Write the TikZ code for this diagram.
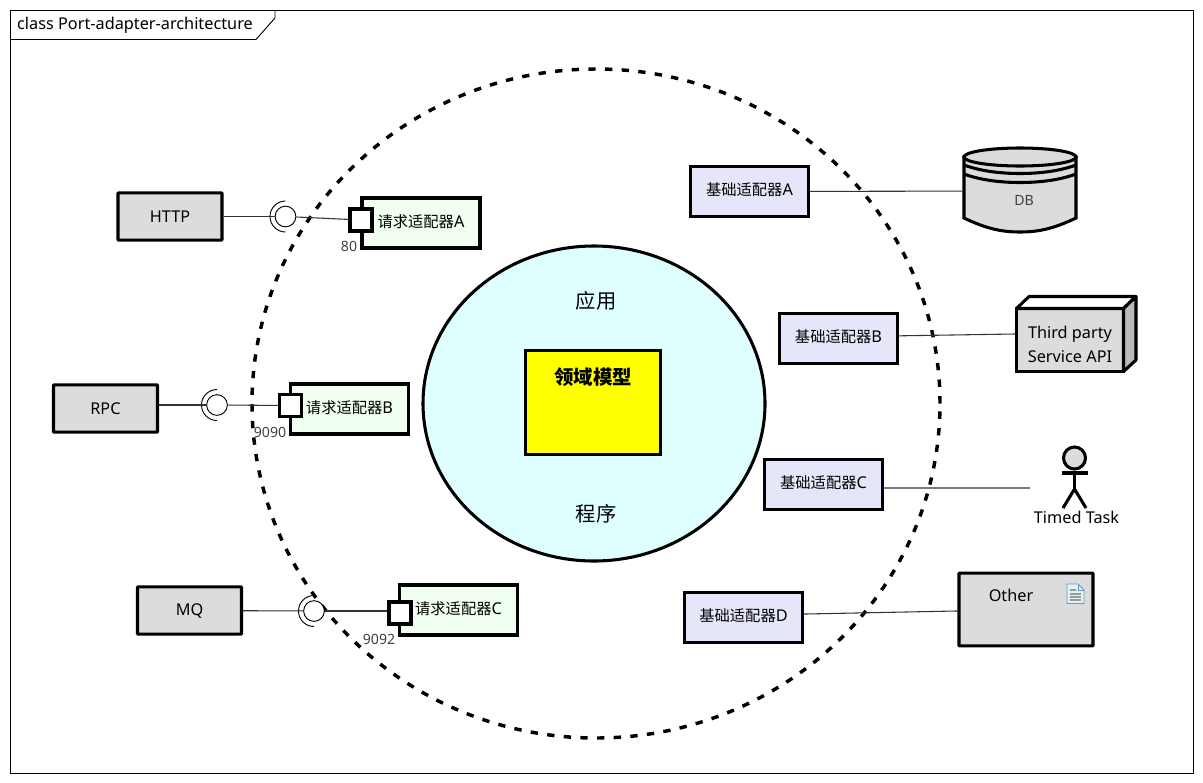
\documentclass[tikz,border=0pt]{standalone}
\usepackage{fontspec}
\setmainfont{Noto Sans}
\newfontfamily\cjk[Scale=0.94]{Noto Sans CJK SC}
\usetikzlibrary{shapes.geometric,calc}

\definecolor{boxgrey}{HTML}{DCDCDC}
\definecolor{sidegrey}{HTML}{B9B9B9}
\definecolor{reqgreen}{HTML}{F0FFF0}
\definecolor{basicblue}{HTML}{E6E6FA}
\definecolor{appcyan}{HTML}{DFFFFF}
\definecolor{domainyellow}{HTML}{FFFF00}
\definecolor{docblue}{HTML}{6F93C9}
\definecolor{docfill}{HTML}{DDF5F0}

\begin{document}
\begin{tikzpicture}[x=0.75pt,y=-0.75pt,font=\fontsize{12.2}{15}\selectfont,
	thick line/.style={line width=2.3pt},
	wire/.style={line width=0.8pt,black!80},
	greynode/.style={rectangle,draw,thick line,rounded corners=0.5pt,fill=boxgrey,inner sep=0pt,minimum width=78pt,minimum height=35.5pt},
	reqnode/.style={rectangle,draw,thick line,fill=reqgreen,inner sep=0pt,text depth=3.5pt,minimum width=88.5pt,minimum height=37.5pt},
	basicnode/.style={rectangle,draw,thick line,fill=basicblue,inner sep=0pt,text depth=3.5pt,minimum width=88.5pt,minimum height=38pt},
	portnode/.style={rectangle,draw,thick line,fill=white,inner sep=0pt,minimum width=16.5pt,minimum height=16.5pt},
	ballnode/.style={circle,draw,line width=0.7pt,fill=white,inner sep=0pt,minimum size=15.5pt},
	portlabel/.style={inner sep=0pt,text=black!75,font=\fontsize{10.6}{13}\selectfont}]

	\useasboundingbox (0, 0) rectangle (1203, 782);

	% frame and its tag
	\draw[line width=0.7pt] (10, 10) rectangle (1193, 773);
	\draw[line width=0.7pt] (10, 39.5) -- (256, 39.5) -- (275, 18) -- (275, 10);
	\node [inner sep=0pt] (title) at (135, 25) {class Port-adapter-architecture};

	% the two rings
	\node [ellipse,draw,line width=2.6pt,dash pattern=on 5.5pt off 7pt,inner sep=0pt,minimum width=516pt,minimum height=501.75pt] (outerring) at (596, 403.5) {};
	\node [ellipse,draw,thick line,fill=appcyan,inner sep=0pt,minimum width=256.5pt,minimum height=236.25pt] (appring) at (594, 403.5) {};
	\node (applabel) at (596, 301) {\fontsize{16.2}{18}\selectfont\cjk 应用};
	\node (proglabel) at (596, 514) {\fontsize{16.2}{18}\selectfont\cjk 程序};
	\node [rectangle,draw,thick line,fill=domainyellow,inner sep=0pt,minimum width=101pt,minimum height=77.5pt] (domain) at (593, 402.5) {};
	\node (domainlabel) at (593, 377) {\fontsize{15.5}{17}\selectfont\cjk\bfseries 领域模型};

	% left side
	\node [greynode] (http) at (170, 216.5) {HTTP};
	\node [greynode] (rpc) at (105.5, 408.5) {RPC};
	\node [greynode] (mq) at (189.5, 610.5) {MQ};

	\node [ballnode] (ballA) at (285.5, 216.5) {};
	\node [ballnode] (ballB) at (217, 405) {};
	\node [ballnode] (ballC) at (314, 611) {};
	\draw[line width=0.7pt] (285.5, 201) arc (270:90:15.5);
	\draw[line width=0.7pt] (217, 389.5) arc (270:90:15.5);
	\draw[line width=0.7pt] (314, 595.5) arc (270:90:15.5);

	\node [reqnode] (reqA) at (421, 223) {{\cjk 请求适配器}A};
	\node [reqnode] (reqB) at (349.5, 409) {{\cjk 请求适配器}B};
	\node [reqnode] (reqC) at (458.5, 610) {{\cjk 请求适配器}C};
	\node [portnode] (portA) at (361, 220) {};
	\node [portnode] (portB) at (290.5, 405.5) {};
	\node [portnode] (portC) at (400, 613) {};
	\node [portlabel] (numA) at (349, 246) {80};
	\node [portlabel] (numB) at (270, 432) {9090};
	\node [portlabel] (numC) at (379, 639) {9092};

	\draw[wire] (http) to (ballA);
	\draw[wire] (ballA) to (portA);
	\draw[wire] (rpc.east |- ballB) to (ballB);
	\draw[wire] (ballB) to (portB);
	\draw[wire] (mq) to (ballC);
	\draw[wire] (ballC) to (portC.west |- ballC);

	% right side
	\node [basicnode] (basicA) at (749.5, 191.5) {{\cjk 基础适配器}A};
	\node [basicnode] (basicB) at (838.5, 338.5) {{\cjk 基础适配器}B};
	\node [basicnode] (basicC) at (823.5, 484.5) {{\cjk 基础适配器}C};
	\node [basicnode] (basicD) at (743.5, 617.5) {{\cjk 基础适配器}D};

	% database
	\node [inner sep=0pt,minimum width=85.5pt,minimum height=64pt] (db) at (1020, 191) {};
	\draw[thick line,fill=boxgrey] (964, 157) -- (964, 218) .. controls (985, 228) and (1000, 232) .. (1020, 232) .. controls (1040, 232) and (1055, 228) .. (1076, 218) -- (1076, 157) -- cycle;
	\draw[thick line,fill=boxgrey] (1020, 157) ellipse (56 and 9);
	\draw[thick line] (964, 165) .. controls (980, 171) and (1000, 173.5) .. (1020, 173.5) .. controls (1040, 173.5) and (1060, 171) .. (1076, 165);
	\draw[thick line] (964, 174) .. controls (980, 180) and (1000, 182.5) .. (1020, 182.5) .. controls (1040, 182.5) and (1060, 180) .. (1076, 174);
	\node [portlabel] (dblabel) at (1024, 200) {DB};

	% third party box
	\node [rectangle,draw,thick line,fill=boxgrey,inner sep=0pt,minimum width=80.5pt,minimum height=47.5pt] (third) at (1070, 340) {};
	\draw[thick line,fill=white,line join=round] (1016.5, 308.5) -- (1029, 296.5) -- (1136, 296.5) -- (1123.5, 308.5) -- cycle;
	\draw[thick line,fill=sidegrey,line join=round] (1123.5, 308.5) -- (1136, 296.5) -- (1136, 360) -- (1123.5, 371.5) -- cycle;
	\node [inner sep=0pt,align=center,font=\fontsize{12.2}{18}\selectfont] (thirdlabel) at (1070, 344) {Third party\\Service API};

	% actor
	\node [circle,draw,thick line,fill=boxgrey,inner sep=0pt,minimum size=16.5pt] (actorhead) at (1074.5, 458) {};
	\coordinate (hip) at (1074.5, 489);
	\coordinate (timedend) at (1030, 488);
	\draw[thick line] (actorhead) -- (hip);
	\draw[thick line] (1061.5, 473) -- (1087.5, 473);
	\draw[thick line] (1063, 508) -- (hip) -- (1086, 508);
	\node [inner sep=0pt] (timed) at (1076.5, 517) {Timed Task};

	% other
	\node [rectangle,draw,thick line,rounded corners=0.5pt,fill=boxgrey,inner sep=0pt,minimum width=100.5pt,minimum height=54.5pt] (other) at (1026, 609.5) {};
	\node [inner sep=0pt] (otherlabel) at (1011, 595) {Other};
	\draw[line width=0.7pt,draw=docblue,fill=docfill] (1067, 584) -- (1078, 584) -- (1084, 590) -- (1084, 603.5) -- (1067, 603.5) -- cycle;
	\draw[line width=0.7pt,draw=docblue] (1078, 584) -- (1078, 590) -- (1084, 590);
	\draw[line width=0.8pt,draw=black!40] (1070, 590) -- (1076, 590) (1070, 594) -- (1081, 594) (1070, 597) -- (1081, 597) (1070, 600) -- (1081, 600);

	\draw[wire] (basicA) to (db);
	\draw[wire] ([yshift=2pt]basicB.east) to ([yshift=4.5pt]third.west);
	\draw[wire] ([yshift=-2.6pt]basicC.east) to (timedend);
	\draw[wire] ([yshift=2.6pt]basicD.east) to ([yshift=-1.1pt]other.west);
\end{tikzpicture}
\end{document}
